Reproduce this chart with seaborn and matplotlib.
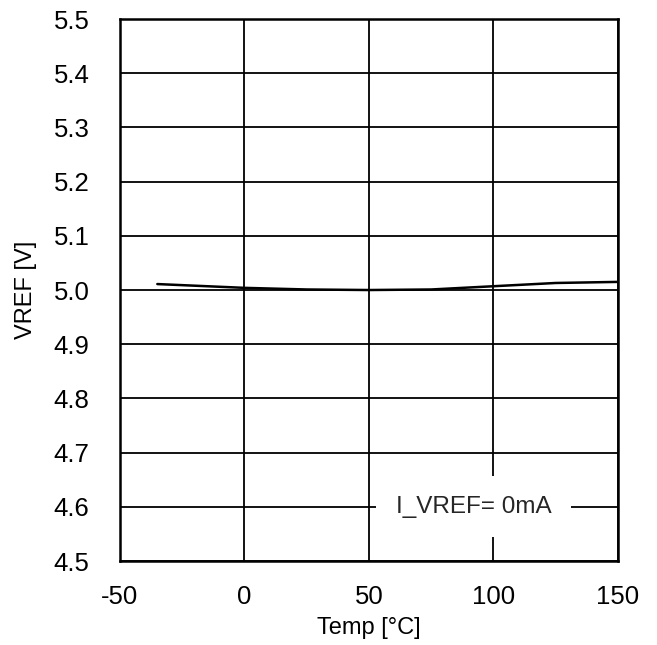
import matplotlib
matplotlib.use("Agg")
import matplotlib.pyplot as plt
import seaborn as sns
import pandas as pd

# curve
temp = [-35, -20, 0, 25, 50, 75, 100, 125, 150]
vref = [5.011, 5.008, 5.004, 5.001, 5.000, 5.001, 5.007, 5.013, 5.015]
xticks = [-50, 0, 50, 100, 150]
yticks = [4.5, 4.6, 4.7, 4.8, 4.9, 5.0, 5.1, 5.2, 5.3, 5.4, 5.5]
label = "I_VREF= 0mA"

df = pd.DataFrame({"Temp": temp, "VREF": vref})

sns.set_style("white")
plt.rcParams["font.family"] = ["Liberation Sans", "DejaVu Sans"]

fig = plt.figure(figsize=(6.57, 6.45), dpi=100)
ax = fig.add_axes([0.1826, 0.1302, 0.758, 0.8403])

sns.lineplot(data=df, x="Temp", y="VREF", color="black", linewidth=1.8, ax=ax, zorder=3)

ax.set_xlim(-50, 150)
ax.set_ylim(4.5, 5.5)
ax.set_xticks(xticks)
ax.set_xticklabels([str(t) for t in xticks])
ax.set_yticks(yticks)
ax.set_yticklabels([f"{t:.1f}" for t in yticks])
ax.grid(True, color="black", linewidth=1.3)
ax.set_axisbelow(True)
for s in ax.spines.values():
    s.set_color("black")
    s.set_linewidth(1.8)
ax.tick_params(axis="both", length=0, labelsize=18.5, colors="black")
ax.tick_params(axis="x", pad=17)
ax.tick_params(axis="y", pad=22)

ax.set_xlabel("Temp [°C]", fontsize=17, labelpad=6, color="black")
ax.set_ylabel("VREF [V]", fontsize=17, labelpad=12, color="black")

ax.text(92, 4.6, label, fontsize=17.5, ha="center", va="center", zorder=4,
        bbox=dict(facecolor="white", edgecolor="none", pad=14))

fig.savefig("out.png", dpi=100)
